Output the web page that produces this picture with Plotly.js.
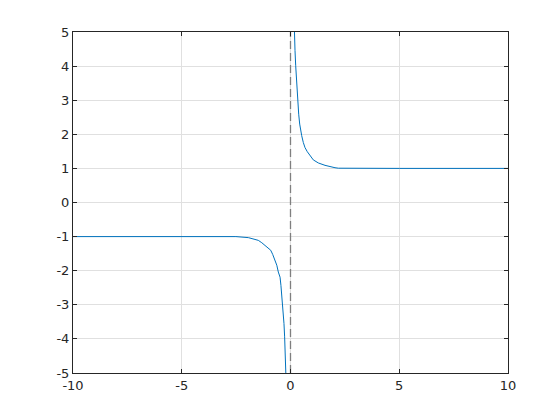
<!DOCTYPE html>
<html>
<head>
<meta charset="utf-8">
<script src="https://cdn.plot.ly/plotly-3.0.1.min.js"></script>
<style>html,body{margin:0;padding:0;background:#fff;}#chart{width:560px;height:420px;}</style>
</head>
<body>
<div id="chart"></div>
<script>
// Left branch (x < 0)
const xNeg = [-10, -5, -2.51, -1.94, -1.71, -1.48, -1.32, -1.17, -1.02, -0.91, -0.82, -0.71, -0.63, -0.56, -0.48, -0.44, -0.39, -0.33, -0.30, -0.27, -0.24, -0.22, -0.207, -0.19];
const yNeg = [-1, -1, -1.0, -1.03, -1.06, -1.11, -1.18, -1.26, -1.32, -1.40, -1.52, -1.69, -1.84, -2.04, -2.19, -2.43, -2.77, -3.26, -3.55, -3.94, -4.33, -4.63, -4.97, -5.5];
// Right branch (x > 0)
const xPos = [0.16, 0.175, 0.207, 0.239, 0.267, 0.313, 0.331, 0.377, 0.423, 0.469, 0.515, 0.589, 0.667, 0.772, 0.897, 1.048, 1.278, 1.586, 2.046, 2.2, 5, 10];
const yPos = [5.5, 4.99, 4.46, 4.01, 3.72, 3.28, 2.89, 2.59, 2.30, 2.10, 1.96, 1.76, 1.61, 1.49, 1.37, 1.25, 1.16, 1.09, 1.02, 1.006, 1, 1];
// Asymptote
const xAsym = [0, 0];
const yAsym = [-5, 5];
const xTicks = [-10, -5, 0, 5, 10];
const yTicks = [-5, -4, -3, -2, -1, 0, 1, 2, 3, 4, 5];

const lineColor = '#0072BD';
const traces = [
  {x: xAsym, y: yAsym, mode: 'lines', line: {color: '#7f7f7f', width: 1.3, dash: '8px,4px'}, hoverinfo: 'skip'},
  {x: xNeg, y: yNeg, mode: 'lines', line: {color: lineColor, width: 1}},
  {x: xPos, y: yPos, mode: 'lines', line: {color: lineColor, width: 1}}
];
const axisCommon = {
  showgrid: true, gridcolor: '#e0e0e0', gridwidth: 1,
  zeroline: false, showline: true, linecolor: '#262626', linewidth: 1, mirror: 'ticks',
  ticks: 'inside', ticklen: 4, tickcolor: '#262626', tickwidth: 1,
  tickfont: {family: 'DejaVu Sans, sans-serif', size: 13, color: '#262626'}
};
const layout = {
  width: 560, height: 420,
  margin: {l: 73, r: 52, t: 32, b: 47, pad: 0},
  paper_bgcolor: '#ffffff', plot_bgcolor: '#ffffff',
  showlegend: false,
  xaxis: Object.assign({}, axisCommon, {range: [-10, 10], tickmode: 'array', tickvals: xTicks, ticktext: xTicks.map(String)}),
  yaxis: Object.assign({}, axisCommon, {range: [-5, 5], tickmode: 'array', tickvals: yTicks, ticktext: yTicks.map(String)})
};
Plotly.newPlot('chart', traces, layout, {displayModeBar: false, staticPlot: true});
</script>
</body>
</html>
